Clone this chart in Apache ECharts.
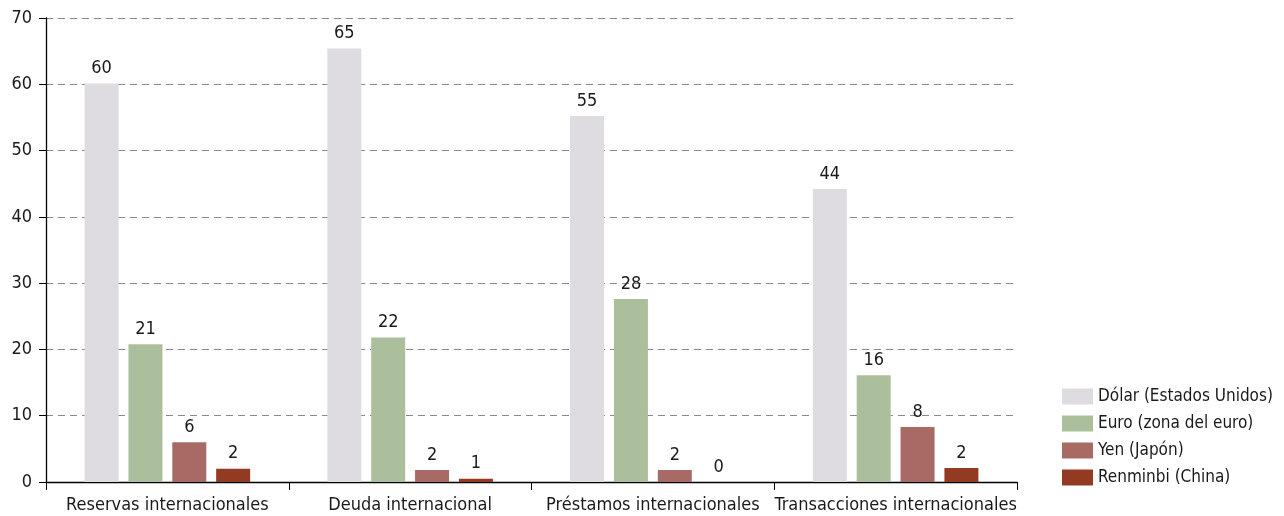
<!DOCTYPE html>
<html>
<head>
<meta charset="utf-8">
<script src="https://cdn.jsdelivr.net/npm/echarts@6/dist/echarts.min.js"></script>
<style>
  html, body { margin: 0; padding: 0; background: #fff; }
  #chart { width: 1284px; height: 516px; }
</style>
</head>
<body>
<div id="chart"></div>
<script>
const categories = ['Reservas internacionales', 'Deuda internacional', 'Préstamos internacionales', 'Transacciones internacionales']
const seriesNames = ['Dólar (Estados Unidos)', 'Euro (zona del euro)', 'Yen (Japón)', 'Renminbi (China)']
const dolar = [60.1, 65.4, 55.2, 44.2]
const euro = [20.8, 21.8, 27.6, 16.1]
const yen = [6.0, 1.8, 1.8, 8.3]
const renminbi = [2.0, 0.5, 0.0, 2.1]
const yTicks = { min: 0, max: 70, interval: 10 }

const colors = ['#dedbe1', '#abbf9c', '#a86a64', '#923a22']
const font = '"Liberation Sans Narrow", "DejaVu Sans Condensed", sans-serif'
const textColor = '#1a1a1a'

const chart = echarts.init(document.getElementById('chart'))

const makeSeries = (name, data, i) => ({
  name,
  type: 'bar',
  data,
  barWidth: 34,
  barGap: '29%',
  itemStyle: { color: colors[i] },
  label: {
    show: true,
    position: 'top',
    distance: 6,
    color: textColor,
    fontFamily: font,
    fontSize: 18,
    formatter: p => Math.round(p.value)
  }
})

chart.setOption({
  animation: false,
  grid: { left: 46, right: 267, top: 18, bottom: 34, containLabel: false },
  legend: {
    orient: 'vertical',
    left: 1057,
    top: 383,
    itemWidth: 31,
    itemHeight: 16,
    itemGap: 10,
    icon: 'rect',
    textStyle: { color: textColor, fontFamily: font, fontSize: 17 },
    data: seriesNames
  },
  xAxis: {
    type: 'category',
    data: categories,
    axisLine: { lineStyle: { color: '#000', width: 1.3 } },
    axisTick: { show: true, interval: 0, length: 8, lineStyle: { color: '#000' } },
    axisLabel: { interval: 0, color: textColor, fontFamily: font, fontSize: 18, margin: 14 }
  },
  yAxis: {
    type: 'value',
    min: yTicks.min,
    max: yTicks.max,
    interval: yTicks.interval,
    axisLine: { show: true, lineStyle: { color: '#000', width: 1.3 } },
    axisTick: { show: true, length: 7, lineStyle: { color: '#000' } },
    axisLabel: { color: textColor, fontFamily: font, fontSize: 18, margin: 14 },
    splitLine: { lineStyle: { color: '#8a8a8a', type: [7, 5], width: 1 } }
  },
  series: [
    makeSeries(seriesNames[0], dolar, 0),
    makeSeries(seriesNames[1], euro, 1),
    makeSeries(seriesNames[2], yen, 2),
    makeSeries(seriesNames[3], renminbi, 3)
  ]
})
</script>
</body>
</html>
